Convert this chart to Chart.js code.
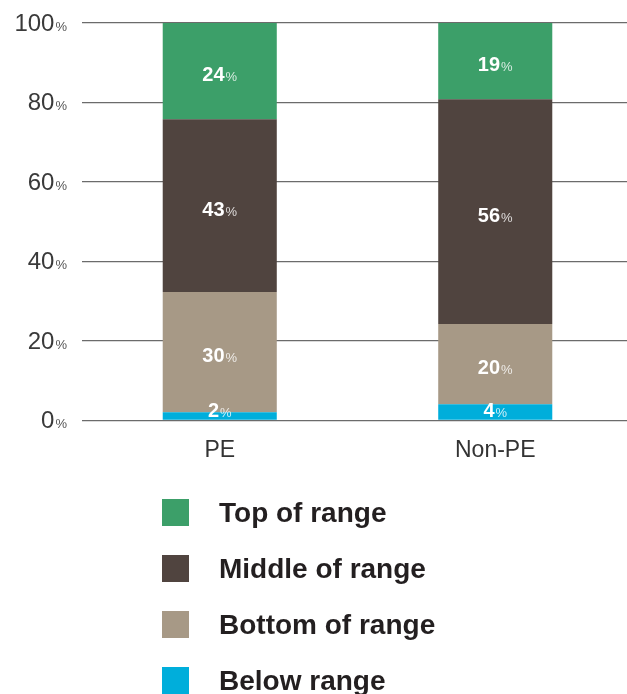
<!DOCTYPE html>
<html>
<head>
<meta charset="utf-8">
<script src="https://cdn.jsdelivr.net/npm/chart.js@4"></script>
<style>
  html, body { margin: 0; padding: 0; background: #fff; overflow: hidden; }
  #wrap { width: 633px; height: 694px; }
</style>
</head>
<body>
<div id="wrap"><canvas id="chart" width="633" height="694"></canvas></div>
<script>
// categories and series (shares as printed on the bars)
const categories = ['PE', 'Non-PE'];
const seriesNames = ['Below range', 'Bottom of range', 'Middle of range', 'Top of range'];
const belowRange = [2, 4];
const bottomOfRange = [30, 20];
const middleOfRange = [43, 56];
const topOfRange = [24, 19];
const yTicks = [0, 20, 40, 60, 80, 100];

const colors = ['#00aedb', '#a79986', '#50443f', '#3c9f69'];
const seriesValues = [belowRange, bottomOfRange, middleOfRange, topOfRange];

// printed shares sum to 99, bars are scaled to a full 100% column
const totals = categories.map((_, i) => seriesValues.reduce((s, arr) => s + arr[i], 0));

const datasets = seriesValues.map((vals, k) => ({
  label: seriesNames[k],
  data: vals.map((v, i) => v / totals[i] * 100),
  printed: vals,
  backgroundColor: colors[k],
  borderWidth: 0,
  barPercentage: 1,
  categoryPercentage: 0.414,
}));

const FONT = '"Liberation Sans", Arial, sans-serif';

// number + smaller "%" drawn as one centred label
function drawPct(ctx, num, x, y, numFont, pctFont, numColor, pctColor, align) {
  ctx.font = numFont;
  const w1 = ctx.measureText(num).width;
  ctx.font = pctFont;
  const w2 = ctx.measureText('%').width + 1;
  let x0 = align === 'right' ? x - w1 - w2 : x - (w1 + w2) / 2;
  ctx.textAlign = 'left';
  ctx.textBaseline = 'alphabetic';
  ctx.font = numFont;
  ctx.fillStyle = numColor;
  ctx.fillText(num, x0, y);
  ctx.font = pctFont;
  ctx.fillStyle = pctColor;
  ctx.fillText('%', x0 + w1 + 1, y);
}

const extras = {
  id: 'extras',
  afterDatasetsDraw(chart) {
    const ctx = chart.ctx;
    const area = chart.chartArea;
    ctx.save();
    // bar labels
    chart.data.datasets.forEach((ds, k) => {
      const meta = chart.getDatasetMeta(k);
      meta.data.forEach((bar, i) => {
        let cy = (bar.y + bar.base) / 2 + 3;
        cy = Math.min(cy, area.bottom - 10);
        drawPct(ctx, String(ds.printed[i]), bar.x, cy + 7,
          'bold 20px ' + FONT, '13px ' + FONT, '#ffffff', 'rgba(255,255,255,0.8)', 'center');
      });
    });
    // y tick labels
    const ys = chart.scales.y;
    yTicks.forEach(v => {
      const py = ys.getPixelForValue(v);
      drawPct(ctx, String(v), 67, py + 8, '300 24px ' + FONT, '13px ' + FONT, '#3a3a3a', '#555', 'right');
    });
    // legend, top to bottom
    const order = [3, 2, 1, 0];
    order.forEach((k, n) => {
      const ds = chart.data.datasets[k];
      const top = 499 + n * 56;
      ctx.fillStyle = ds.backgroundColor;
      ctx.fillRect(162, top, 27, 27);
      ctx.fillStyle = '#231f20';
      ctx.font = 'bold 28px ' + FONT;
      ctx.textAlign = 'left';
      ctx.textBaseline = 'alphabetic';
      ctx.fillText(ds.label, 219, top + 23);
    });
    ctx.restore();
  }
};

new Chart(document.getElementById('chart'), {
  type: 'bar',
  data: { labels: categories, datasets },
  plugins: [extras],
  options: {
    responsive: false,
    animation: false,
    layout: { padding: { left: 82, top: 23, right: 0, bottom: 214 } },
    plugins: { legend: { display: false }, tooltip: { enabled: false } },
    scales: {
      x: {
        stacked: true,
        grid: { display: false, drawTicks: false },
        border: { display: false },
        ticks: { color: '#333', font: { family: FONT, size: 23 }, padding: 16 },
      },
      y: {
        stacked: true,
        min: 0,
        max: 100,
        afterBuildTicks: (scale) => { scale.ticks = yTicks.map(v => ({ value: v })); },
        ticks: { display: false },
        grid: { color: '#6b6b6b', lineWidth: 1.2, drawTicks: false },
        border: { display: false },
      },
    },
  },
});
</script>
</body>
</html>
